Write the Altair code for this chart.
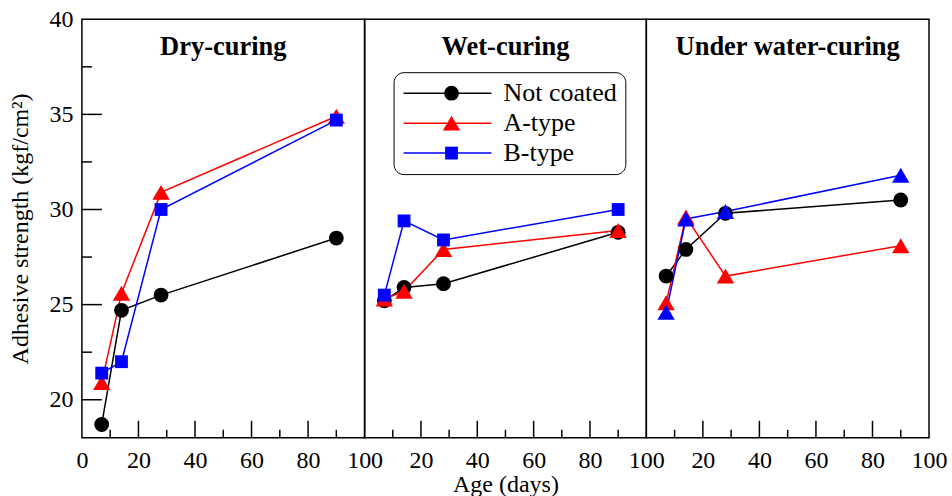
import altair as alt
import pandas as pd

FONT = "'Liberation Serif', 'Times New Roman', Times, 'DejaVu Serif', serif"

# Panels, series and curing ages
panels = ["Dry-curing", "Wet-curing", "Under water-curing"]
series_names = ["Not coated", "A-type", "B-type"]
series_codes = ["NC", "A", "B"]
series_colors = ["#000000", "#ff0000", "#0000ff"]
series_shapes = ["circle", "triangle-up", "square"]
series_sizes = [220, 300, 165]
ages = [7, 14, 28, 90]

# Adhesive strength (kgf/cm2)
dry_not_coated = [18.7, 24.7, 25.5, 28.5]
dry_a_type = [20.9, 25.6, 30.9, 34.9]
dry_b_type = [21.4, 22.0, 30.0, 34.7]

wet_not_coated = [25.2, 25.9, 26.1, 28.8]
wet_a_type = [25.3, 25.7, 27.9, 28.9]
wet_b_type = [25.5, 29.4, 28.4, 30.0]

uw_not_coated = [26.5, 27.9, 29.8, 30.5]
uw_a_type = [25.1, 29.6, 26.5, 28.1]
uw_b_type = [24.6, 29.5, 29.9, 31.8]
uw_b_type_marker = "triangle-up"
uw_b_type_marker_size = 300

# Axis labels and tick positions
x_labels_first = [0, 20, 40, 60, 80, 100]
x_labels_rest = [20, 40, 60, 80, 100]
x_major_ticks = [20, 40, 60, 80]
x_minor_ticks = [10, 30, 50, 70, 90]
y_labels = [20, 25, 30, 35, 40]
y_major_ticks = [20, 25, 30, 35]
y_minor_ticks = [22.5, 27.5, 32.5, 37.5]

values_by_panel = {
    "Dry-curing": [dry_not_coated, dry_a_type, dry_b_type],
    "Wet-curing": [wet_not_coated, wet_a_type, wet_b_type],
    "Under water-curing": [uw_not_coated, uw_a_type, uw_b_type],
}

rows = []
for p in panels:
    for name, code, vals in zip(series_names, series_codes, values_by_panel[p]):
        for a, v in zip(ages, vals):
            rows.append({"panel": p, "series": name, "code": code, "age": a, "strength": v})
df = pd.DataFrame(rows)

WIDTHS = [283, 282, 283]
H = 419

x_scale = alt.Scale(domain=[0, 100], nice=False)
y_scale = alt.Scale(domain=[18, 40], nice=False, zero=False)
stroke_scale = alt.Scale(domain=series_names, range=series_colors)
color_scale = alt.Scale(domain=series_codes, range=series_colors)
shape_scale = alt.Scale(domain=series_codes, range=series_shapes)
size_scale = alt.Scale(type="ordinal", domain=series_codes, range=series_sizes)

# Line samples with labels inside a rounded box; markers overlaid on the samples
line_legend = alt.Legend(
    title=None, orient="none", legendX=29, legendY=53,
    symbolType="M-1,0H7", symbolSize=484, symbolStrokeWidth=1.5,
    labelFont=FONT, labelFontSize=26, labelColor="black", labelOffset=76,
    rowPadding=4, padding=8, strokeColor="black", cornerRadius=10,
)
marker_legend = alt.Legend(
    title=None, orient="none", legendX=74, legendY=61,
    labelExpr="''", labelFont=FONT, labelFontSize=26,
    rowPadding=4, padding=0,
)


def panel(i):
    name = panels[i]
    W = WIDTHS[i]
    d = df[df["panel"] == name]

    x_axis = alt.Axis(
        values=x_labels_first if i == 0 else x_labels_rest,
        ticks=False, domain=False, grid=False, format="d",
        labelFont=FONT, labelFontSize=24, labelColor="black", labelPadding=11,
        labelFlush=False, labelOverlap=False,
        title="Age (days)" if i == 1 else None,
        titleFont=FONT, titleFontSize=24, titleFontWeight="normal",
        titleColor="black", titlePadding=0,
    )
    if i == 0:
        y_axis = alt.Axis(
            values=y_labels, ticks=False, domain=False, grid=False,
            labelFont=FONT, labelFontSize=24, labelColor="black", labelPadding=9,
            title="Adhesive strength (kgf/cm²)", titleFont=FONT, titleFontSize=24,
            titleFontWeight="normal", titleColor="black", titlePadding=16,
        )
    else:
        y_axis = None

    X = alt.X("age:Q", scale=x_scale, axis=x_axis)
    Y = alt.Y("strength:Q", scale=y_scale, axis=y_axis)
    base = alt.Chart(d)
    leg_line = line_legend if i == 1 else None
    leg_mark = marker_legend if i == 1 else None

    lines = base.mark_line(strokeWidth=1.5).encode(
        x=X, y=Y,
        stroke=alt.Stroke("series:N", scale=stroke_scale, legend=leg_line),
    )

    layers = [lines]
    if i == 2:
        main = base.transform_filter("datum.code != 'B'")
        extra = base.transform_filter("datum.code == 'B'").mark_point(
            filled=True, opacity=1
        ).encode(
            x=X, y=Y,
            color=alt.Color("code:N", scale=color_scale, legend=None),
            shape=alt.value(uw_b_type_marker),
            size=alt.value(uw_b_type_marker_size),
        )
    else:
        main = base
        extra = None
    pts = main.mark_point(filled=True, opacity=1).encode(
        x=X, y=Y,
        color=alt.Color("code:N", scale=color_scale, legend=leg_mark),
        shape=alt.Shape("code:N", scale=shape_scale, legend=leg_mark),
        size=alt.Size("code:N", scale=size_scale, legend=leg_mark),
    )
    layers.append(pts)
    if extra is not None:
        layers.append(extra)

    # inward ticks along the bottom edge
    for ticks, length in ((x_major_ticks, 17), (x_minor_ticks, 8)):
        layers.append(
            alt.Chart(pd.DataFrame({"t": ticks})).mark_rule(color="black", strokeWidth=1.5).encode(
                x=alt.X("t:Q", scale=x_scale, axis=x_axis),
                y=alt.value(H), y2=alt.value(H - length),
            )
        )
    # inward ticks along the left edge of the first panel
    if i == 0:
        for ticks, length in ((y_major_ticks, 20), (y_minor_ticks, 10)):
            layers.append(
                alt.Chart(pd.DataFrame({"t": ticks})).mark_rule(color="black", strokeWidth=1.5).encode(
                    y=alt.Y("t:Q", scale=y_scale, axis=y_axis),
                    x=alt.value(0), x2=alt.value(length),
                )
            )

    title = alt.Chart(pd.DataFrame({"name": [name]})).mark_text(
        font=FONT, fontSize=26.5, fontWeight="bold", color="black",
        align="center", baseline="alphabetic",
    ).encode(text="name:N", x=alt.value(W / 2), y=alt.value(36))
    layers.append(title)

    return alt.layer(*layers).properties(width=W, height=H)


chart = alt.hconcat(
    *[panel(i) for i in range(3)], spacing=0, bounds="flush"
).resolve_legend(
    color="independent", shape="independent", stroke="independent", size="independent"
).properties(
    padding={"left": 8, "top": 6, "right": 4, "bottom": 0},
    background="white",
).configure_view(
    stroke="black", strokeWidth=1.5
)

chart.save("out.html", embed_options={"renderer": "svg", "actions": False})
